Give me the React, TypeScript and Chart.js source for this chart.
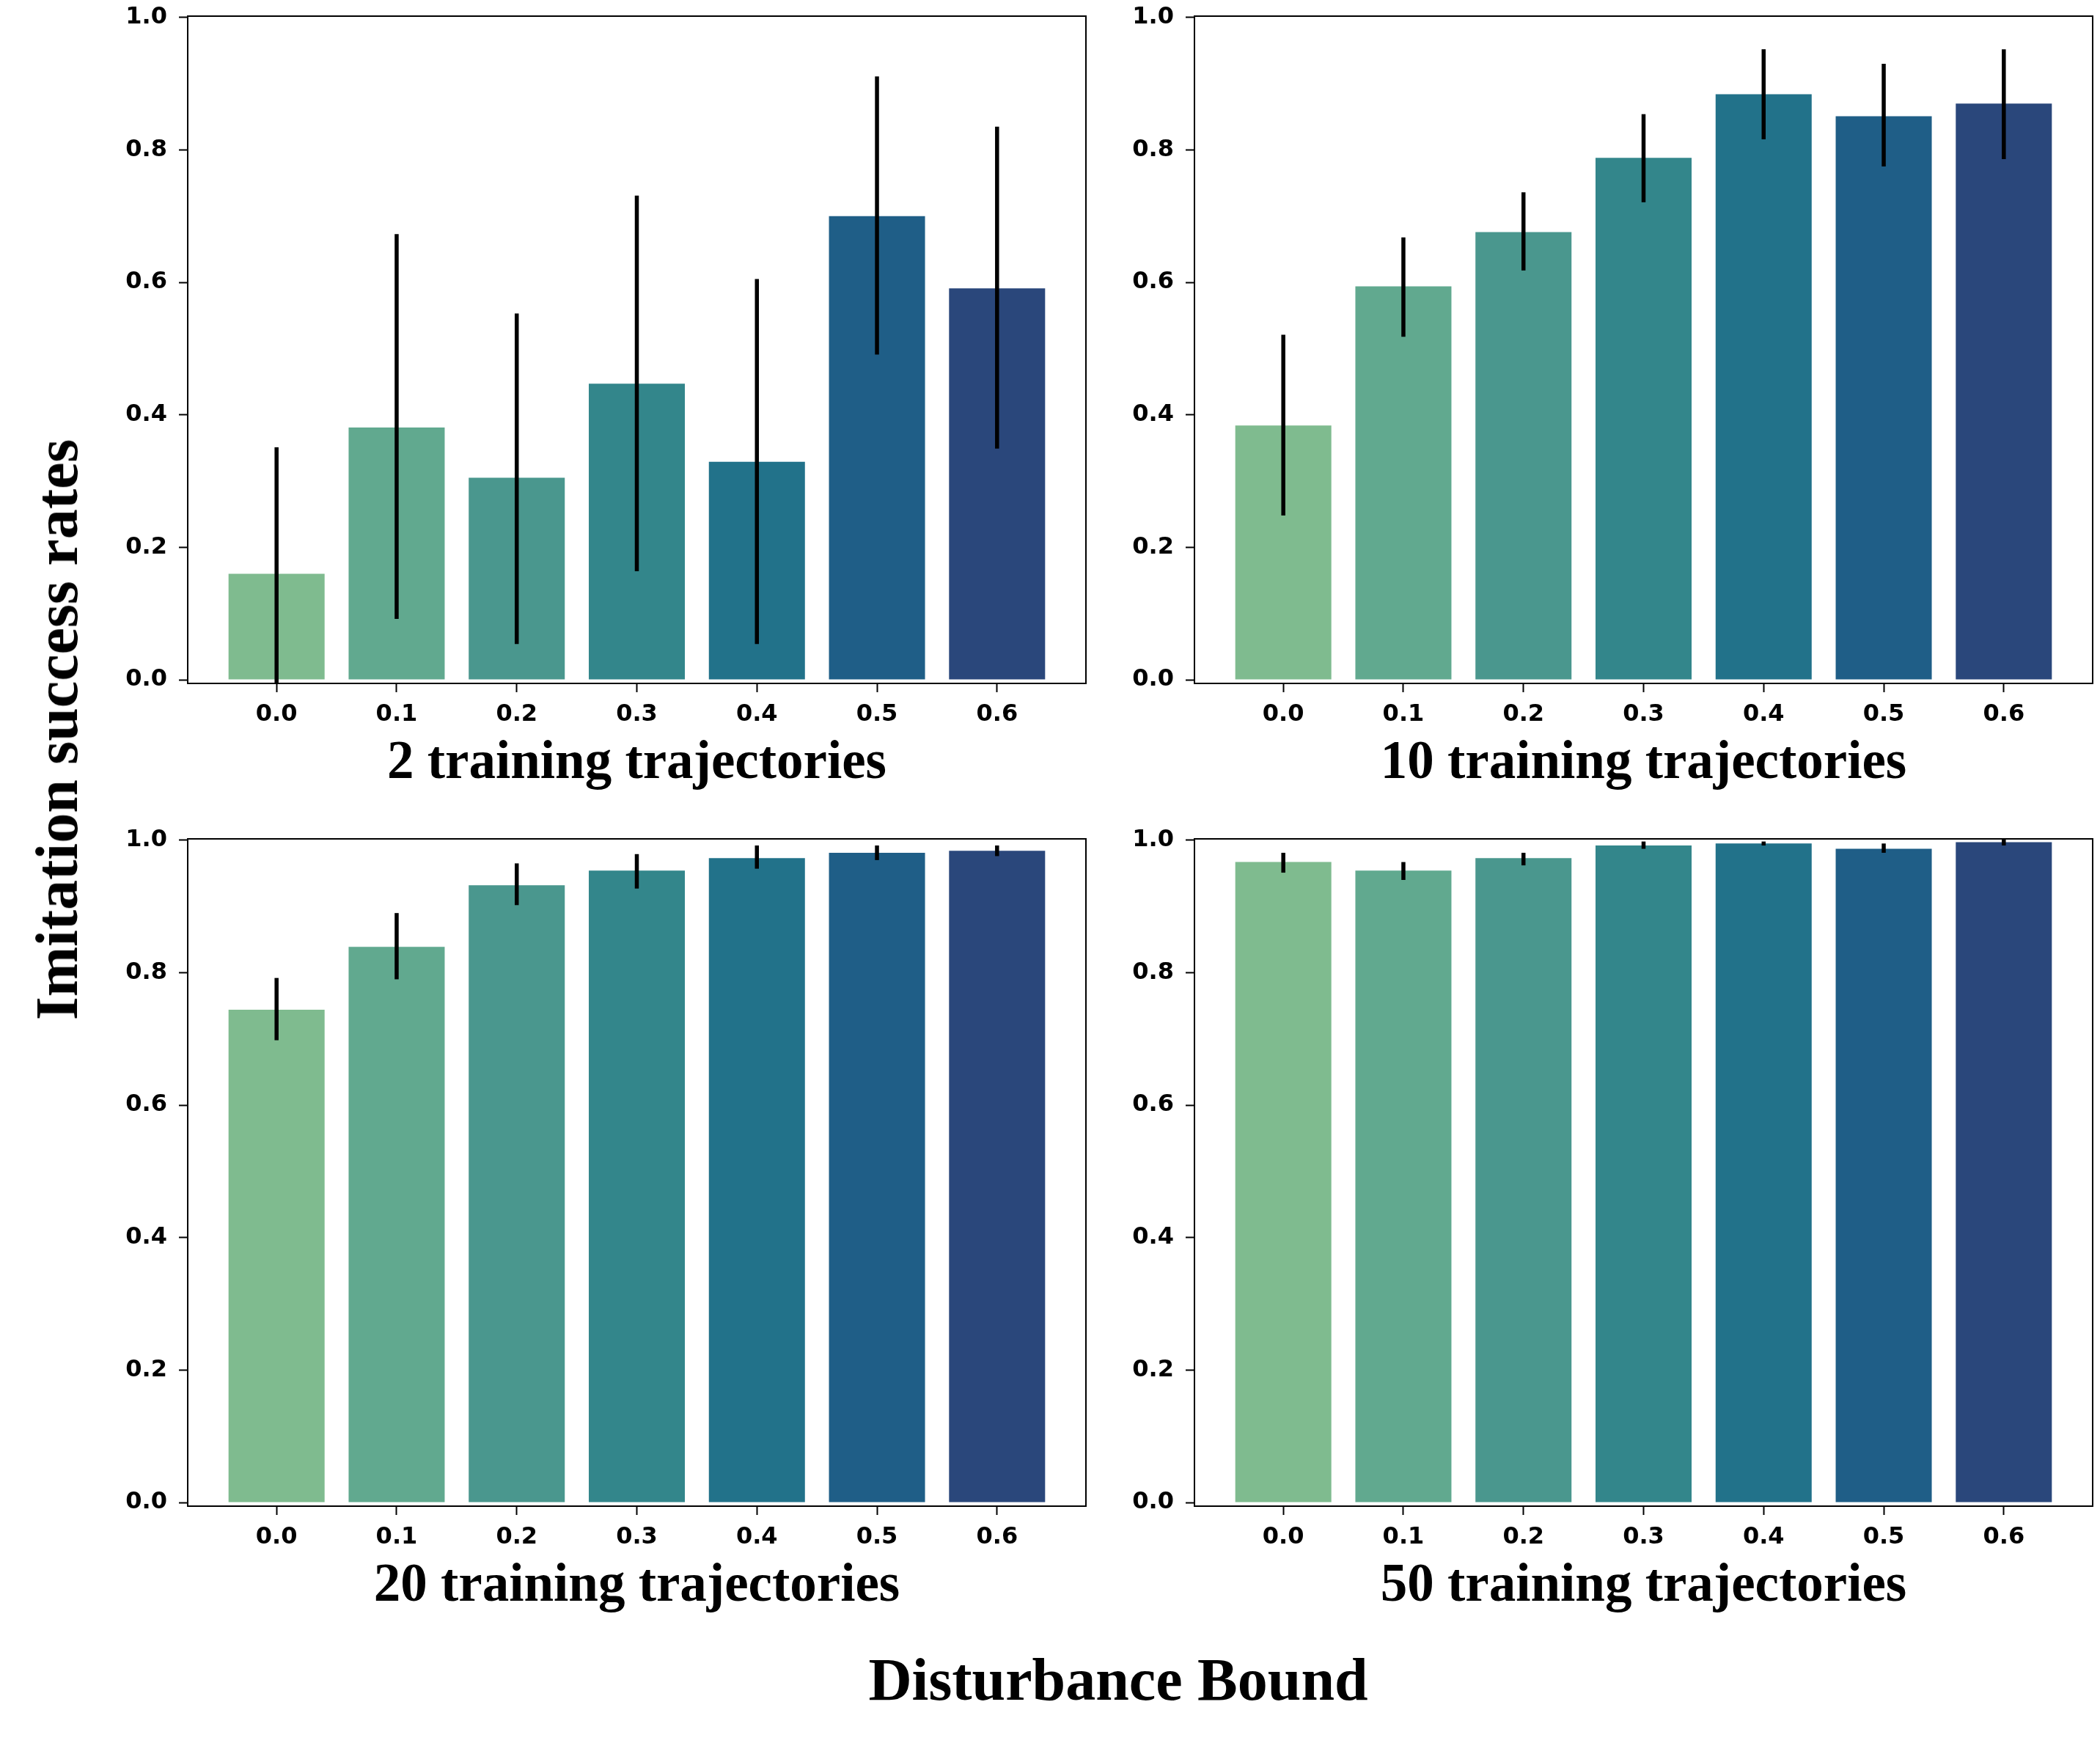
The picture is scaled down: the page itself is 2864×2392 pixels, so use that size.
import React, { useEffect, useRef } from "react";
import { Chart, registerables } from "chart.js";

Chart.register(...registerables);

// disturbance bound categories (x axis)
const categories = ["0.0", "0.1", "0.2", "0.3", "0.4", "0.5", "0.6"];
const yTicks = [0, 0.2, 0.4, 0.6, 0.8, 1.0];
const barColors = ["#7fbb8f", "#61a98f", "#4a978e", "#33868b", "#22728a", "#1f5e87", "#2a477b"];

// 2 training trajectories
const mean2 = [0.16, 0.381, 0.305, 0.447, 0.329, 0.7, 0.591];
const low2 = [-0.031, 0.092, 0.054, 0.164, 0.054, 0.491, 0.349];
const high2 = [0.351, 0.673, 0.553, 0.731, 0.605, 0.911, 0.835];

// 10 training trajectories
const mean10 = [0.384, 0.594, 0.676, 0.788, 0.884, 0.851, 0.87];
const low10 = [0.248, 0.518, 0.618, 0.721, 0.816, 0.775, 0.786];
const high10 = [0.521, 0.668, 0.736, 0.854, 0.952, 0.93, 0.952];

// 20 training trajectories
const mean20 = [0.744, 0.839, 0.932, 0.954, 0.973, 0.981, 0.984];
const low20 = [0.698, 0.79, 0.902, 0.927, 0.957, 0.97, 0.976];
const high20 = [0.792, 0.89, 0.965, 0.979, 0.992, 0.992, 0.992];

// 50 training trajectories
const mean50 = [0.967, 0.954, 0.973, 0.992, 0.995, 0.987, 0.997];
const low50 = [0.951, 0.94, 0.962, 0.987, 0.992, 0.981, 0.992];
const high50 = [0.981, 0.967, 0.981, 0.998, 0.998, 0.995, 1.004];

const tickFont = { family: "'DejaVu Sans', sans-serif", size: 32, weight: "bold" as const };
const serif = "'Liberation Serif', 'Times New Roman', serif";

const CANVAS_W = 1489;
const CANVAS_H = 1000;

// frame around the plot + vertical error bars
const errorBarPlugin = {
    id: "errorBars",
    afterDatasetsDraw(chart: any) {
        const { ctx, chartArea, scales } = chart;
        const ds = chart.data.datasets[0];
        ctx.save();
        ctx.beginPath();
        ctx.rect(chartArea.left, chartArea.top, chartArea.right - chartArea.left, chartArea.bottom - chartArea.top);
        ctx.clip();
        ctx.strokeStyle = "#000";
        ctx.lineWidth = 5.5;
        ctx.lineCap = "butt";
        ds.errLow.forEach((lo: number, i: number) => {
            const x = scales.x.getPixelForValue(i);
            ctx.beginPath();
            ctx.moveTo(x, scales.y.getPixelForValue(lo));
            ctx.lineTo(x, scales.y.getPixelForValue(ds.errHigh[i]));
            ctx.stroke();
        });
        ctx.restore();
    },
    afterDraw(chart: any) {
        const { ctx, chartArea } = chart;
        ctx.save();
        ctx.strokeStyle = "#000";
        ctx.lineWidth = 2;
        ctx.strokeRect(chartArea.left, chartArea.top, chartArea.right - chartArea.left, chartArea.bottom - chartArea.top);
        ctx.restore();
    },
};

interface PanelProps {
    title: string;
    means: number[];
    low: number[];
    high: number[];
    left: number;
    top: number;
}

const Panel: React.FC<PanelProps> = ({ title, means, low, high, left, top }) => {
    const chartRef = useRef<HTMLCanvasElement | null>(null);

    useEffect(() => {
        if (chartRef.current === null) return;
        const chart = new Chart(chartRef.current, {
            type: "bar",
            data: {
                datasets: [{
                    data: means.map((v, i) => ({ x: i, y: v })),
                    backgroundColor: barColors,
                    borderWidth: 0,
                    barPercentage: 0.8,
                    categoryPercentage: 1.0,
                    errLow: low,
                    errHigh: high,
                } as any],
            },
            options: {
                responsive: false,
                animation: false,
                devicePixelRatio: 1,
                layout: { padding: { top: 22, right: 8, left: 0, bottom: 0 } },
                plugins: { legend: { display: false }, tooltip: { enabled: false } },
                scales: {
                    x: {
                        type: "linear",
                        offset: false,
                        min: -0.74,
                        max: 6.74,
                        afterBuildTicks: (s: any) => { s.ticks = categories.map((_, i) => ({ value: i })); },
                        afterFit: (s: any) => { s.height = 68; s.paddingLeft = 0; s.paddingRight = 0; },
                        ticks: {
                            autoSkip: false,
                            maxRotation: 0,
                            color: "#000",
                            font: tickFont,
                            padding: 11,
                            callback: (_v: any, i: number) => categories[i],
                        },
                        grid: { offset: false, drawOnChartArea: false, drawTicks: true, tickLength: 12, tickWidth: 2, tickColor: "#000" },
                        border: { display: true, color: "#000", width: 2 },
                    },
                    y: {
                        min: -0.0055,
                        max: 1.002,
                        afterBuildTicks: (s: any) => { s.ticks = yTicks.map((v) => ({ value: v })); },
                        afterFit: (s: any) => { s.width = 256; s.paddingTop = 0; s.paddingBottom = 0; },
                        ticks: {
                            color: "#000",
                            font: tickFont,
                            padding: 16,
                            callback: (v: any) => Number(v).toFixed(1),
                        },
                        grid: { drawOnChartArea: false, drawTicks: true, tickLength: 12, tickWidth: 2, tickColor: "#000" },
                        border: { display: true, color: "#000", width: 2 },
                    },
                },
            },
            plugins: [errorBarPlugin],
        });
        return () => chart.destroy();
    }, []);

    return (
        <>
            <canvas
                ref={chartRef}
                width={CANVAS_W}
                height={CANVAS_H}
                style={{ position: "absolute", left, top, width: CANVAS_W, height: CANVAS_H }}
            />
            <div
                style={{
                    position: "absolute",
                    left: left + 256,
                    width: 1225,
                    top: top + 1000,
                    textAlign: "center",
                    fontFamily: serif,
                    fontWeight: "bold",
                    fontSize: 73,
                    lineHeight: 1,
                    whiteSpace: "nowrap",
                }}
            >
                {title}
            </div>
        </>
    );
};

export default function App() {
    return (
        <div style={{ position: "absolute", left: 0, top: 0, width: 2864, height: 2392, background: "#fff", overflow: "hidden" }}>
            <Panel title="2 training trajectories" means={mean2} low={low2} high={high2} left={0} top={0} />
            <Panel title="10 training trajectories" means={mean10} low={low10} high={high10} left={1373} top={0} />
            <Panel title="20 training trajectories" means={mean20} low={low20} high={high20} left={0} top={1122} />
            <Panel title="50 training trajectories" means={mean50} low={low50} high={high50} left={1373} top={1122} />
            <div
                style={{
                    position: "absolute",
                    left: 78,
                    top: 995,
                    transform: "translate(-50%, -50%) rotate(-90deg)",
                    fontFamily: serif,
                    fontWeight: "bold",
                    fontSize: 82,
                    lineHeight: 1,
                    whiteSpace: "nowrap",
                }}
            >
                Imitation success rates
            </div>
            <div
                style={{
                    position: "absolute",
                    left: 1525,
                    top: 2250,
                    transform: "translateX(-50%)",
                    fontFamily: serif,
                    fontWeight: "bold",
                    fontSize: 82,
                    lineHeight: 1,
                    whiteSpace: "nowrap",
                }}
            >
                Disturbance Bound
            </div>
        </div>
    );
}
